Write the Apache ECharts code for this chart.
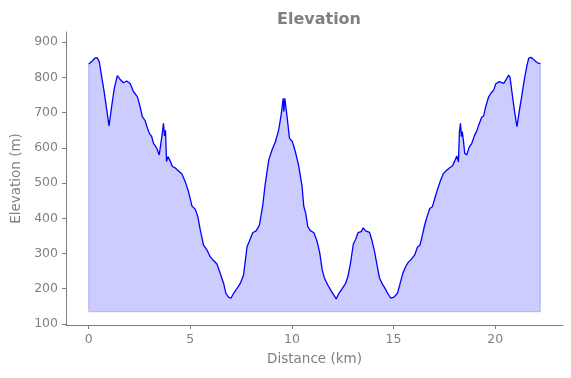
<!DOCTYPE html>
<html>
<head>
<meta charset="utf-8">
<script src="https://cdn.jsdelivr.net/npm/echarts@6/dist/echarts.min.js"></script>
<style>
  html, body { margin: 0; padding: 0; background: #fff; }
  #chart { width: 571px; height: 378px; }
</style>
</head>
<body>
<div id="chart"></div>
<script>
// distance along route (km) and elevation (m)
const distanceKm = [
  0, 0.15, 0.31, 0.42, 0.52, 0.64, 0.75, 0.89, 1.0, 1.13, 1.26, 1.41, 1.54, 1.71, 1.87,
  2.04, 2.2, 2.4, 2.53, 2.64, 2.78, 2.89, 2.99, 3.1, 3.19, 3.35, 3.47, 3.55, 3.6, 3.68,
  3.73, 3.78, 3.83, 3.9, 4.01, 4.12, 4.26, 4.37, 4.45, 4.59, 4.75, 4.91, 5.08, 5.24, 5.37,
  5.49, 5.65, 5.82, 5.98, 6.14, 6.31, 6.47, 6.64, 6.75, 6.88, 7.0, 7.13, 7.3, 7.46, 7.62,
  7.79, 7.9, 8.07, 8.25, 8.4, 8.56, 8.69, 8.86, 9.02, 9.19, 9.35, 9.48, 9.57, 9.6, 9.65,
  9.76, 9.88, 10.02, 10.17, 10.34, 10.5, 10.58, 10.68, 10.78, 10.91, 11.08, 11.24, 11.37, 11.49, 11.6,
  11.77, 11.93, 12.06, 12.18, 12.31, 12.48, 12.64, 12.75, 12.88, 13.02, 13.13, 13.25, 13.41, 13.51, 13.62,
  13.82, 13.95, 14.08, 14.2, 14.31, 14.45, 14.58, 14.69, 14.86, 15.02, 15.19, 15.3, 15.46, 15.6, 15.71,
  15.88, 16.04, 16.17, 16.3, 16.42, 16.53, 16.67, 16.78, 16.91, 17.03, 17.16, 17.32, 17.44, 17.57, 17.73,
  17.9, 18.01, 18.11, 18.19, 18.24, 18.29, 18.34, 18.38, 18.44, 18.5, 18.6, 18.72, 18.85, 18.97, 19.08,
  19.21, 19.33, 19.43, 19.54, 19.68, 19.79, 19.92, 20.03, 20.2, 20.32, 20.42, 20.53, 20.66, 20.73, 20.82,
  20.94, 21.07, 21.18, 21.3, 21.43, 21.55, 21.65, 21.76, 21.87, 22.0, 22.12, 22.22
];
const elevationM = [
  838, 845, 855, 856, 845, 802, 764, 708, 662, 717, 769, 805, 795, 785, 790,
  783, 760, 745, 717, 689, 677, 656, 641, 632, 613, 599, 580, 583, 632, 670,
  634, 650, 561, 575, 563, 547, 543, 537, 535, 526, 504, 476, 435, 426, 405,
  367, 324, 310, 291, 280, 270, 244, 215, 187, 176, 173, 187, 201, 215, 239,
  319, 334, 359, 365, 381, 435, 499, 566, 594, 618, 651, 698, 741, 703, 741,
  689, 627, 618, 589, 547, 490, 435, 414, 376, 365, 359, 334, 301, 253, 230,
  210, 194, 182, 171, 187, 201, 215, 234, 272, 327, 340, 359, 362, 373, 364,
  360, 334, 301, 263, 230, 213, 201, 189, 173, 176, 187, 210, 245, 263, 274,
  284, 296, 318, 324, 353, 381, 409, 428, 433, 457, 482, 509, 526, 534, 542,
  549, 563, 577, 560, 645, 670, 632, 646, 618, 585, 580, 602, 613, 634, 646,
  668, 686, 691, 719, 745, 755, 764, 782, 788, 785, 783, 793, 807, 800, 760,
  708, 660, 703, 745, 793, 831, 855, 857, 852, 845, 840, 840
];
const baseElevation = 135;
const xTicks = [0, 5, 10, 15, 20];
const yTicks = [100, 200, 300, 400, 500, 600, 700, 800, 900];

const font = 'DejaVu Sans';
const grey = '#808080';

const profile = distanceKm.map((d, i) => [d, elevationM[i]]);
const last = distanceKm.length - 1;
const outline = [
  [distanceKm[0], elevationM[0]],
  [distanceKm[0], baseElevation],
  [distanceKm[last], baseElevation],
  [distanceKm[last], elevationM[last]]
];

const chart = echarts.init(document.getElementById('chart'), null, { renderer: 'canvas' });

const option = {
  animation: false,
  backgroundColor: '#fff',
  title: {
    text: 'Elevation',
    left: 314,
    textAlign: 'center',
    top: 7,
    textStyle: { color: grey, fontFamily: font, fontWeight: 'bold', fontSize: 16 }
  },
  grid: { left: 66, right: 8, top: 32, bottom: 53 },
  xAxis: {
    type: 'value',
    min: -1.115,
    max: 23.335,
    name: 'Distance (km)',
    nameLocation: 'middle',
    nameGap: 27,
    nameTextStyle: { color: grey, fontFamily: font, fontSize: 13.5 },
    axisLine: { onZero: false, lineStyle: { color: grey, width: 1 } },
    axisTick: { customValues: xTicks, length: 4, lineStyle: { color: grey } },
    axisLabel: { customValues: xTicks, color: grey, fontFamily: font, fontSize: 12.5, margin: 8 },
    splitLine: { show: false }
  },
  yAxis: {
    type: 'value',
    min: 97,
    max: 929,
    name: 'Elevation (m)',
    nameLocation: 'middle',
    nameGap: 42,
    nameTextStyle: { color: grey, fontFamily: font, fontSize: 13.5 },
    axisLine: { show: true, onZero: false, lineStyle: { color: grey, width: 1 } },
    axisTick: { show: true, customValues: yTicks, length: 4, lineStyle: { color: grey } },
    axisLabel: { customValues: yTicks, color: grey, fontFamily: font, fontSize: 12.5, margin: 8 },
    splitLine: { show: false }
  },
  series: [
    {
      type: 'line',
      data: profile,
      showSymbol: false,
      lineStyle: { color: '#0000ff', width: 1.3 },
      areaStyle: { color: '#ccccff', opacity: 1, origin: baseElevation },
      z: 2
    },
    {
      type: 'line',
      data: outline,
      showSymbol: false,
      silent: true,
      lineStyle: { color: 'rgba(0,0,255,0.2)', width: 1.2 },
      z: 3
    }
  ]
};

chart.setOption(option);
</script>
</body>
</html>
